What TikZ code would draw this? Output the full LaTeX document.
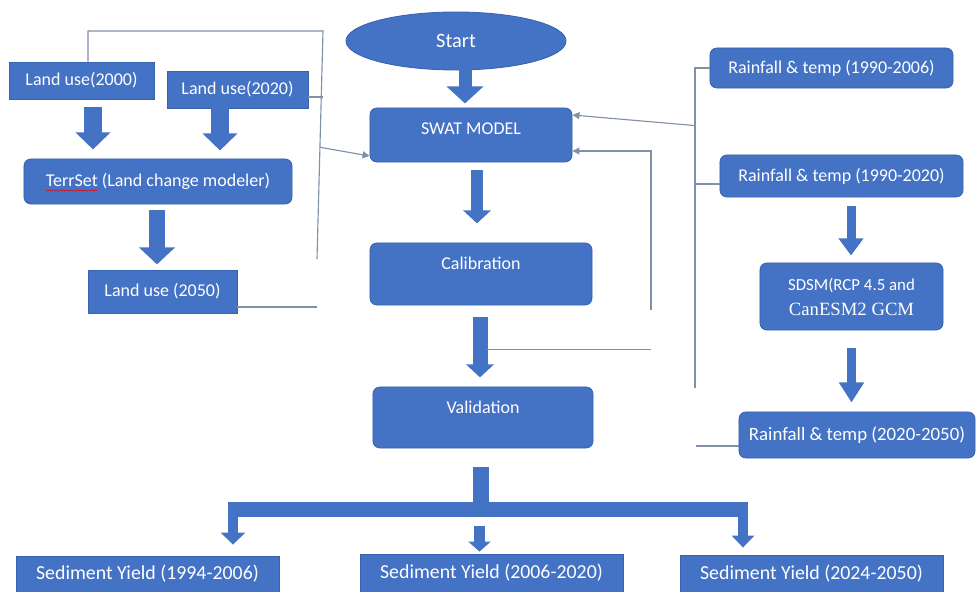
\documentclass[tikz,border=0pt]{standalone}
\usepackage{fontspec}
\setmainfont{Carlito}
\newfontfamily\timesfont{Liberation Serif}
\usetikzlibrary{arrows.meta,calc,shapes.geometric,decorations.pathmorphing}
\definecolor{boxblue}{HTML}{4472C4}
\definecolor{boxedge}{HTML}{3862B0}
\definecolor{linkgray}{HTML}{8190AA}

\begin{document}
\begin{tikzpicture}[x=0.025cm,y=-0.025cm,
  fat/.style n args={3}{draw=boxblue,line width=#1cm,-{Triangle[width=#2cm,length=#3cm]}}]
  \tikzstyle{plain}=[draw=boxedge,fill=boxblue,text=white,inner sep=0pt,line width=0.6pt,font=\fontsize{12.8}{15}\selectfont]
  \tikzstyle{rbox}=[plain,rounded corners=5pt]
  \tikzstyle{link}=[draw=linkgray,line width=0.8pt]
  \tikzstyle{tip}=[-{Triangle[length=5pt,width=5pt]}]
  \useasboundingbox[fill=white] (0,0) rectangle (976,592);

  \node [plain,ellipse,minimum width=5.5cm,minimum height=1.45cm,font=\fontsize{14.5}{16}\selectfont] (start) at (456,41) {Start} ;
  \node [rbox,minimum width=5.05cm,minimum height=1.35cm,text height=0.75em,text depth=8pt] (swat) at (471,135) {SWAT MODEL} ;
  \node [rbox,minimum width=5.55cm,minimum height=1.55cm,text height=0.75em,text depth=14pt] (calib) at (481,274) {Calibration} ;
  \node [rbox,minimum width=5.5cm,minimum height=1.525cm,text height=0.75em,text depth=13pt] (valid) at (483,417.5) {Validation} ;

  \node [plain,minimum width=3.625cm,minimum height=0.925cm] (lu2000) at (81.5,80.5) {Land use(2000)} ;
  \node [plain,minimum width=3.525cm,minimum height=0.925cm] (lu2020) at (237.5,89.5) {Land use(2020)} ;
  \node [rbox,minimum width=6.7cm,minimum height=1.125cm] (terrset) at (158,181.5) {TerrSet (Land change modeler)} ;
  \node [plain,minimum width=3.725cm,minimum height=1.075cm] (lu2050) at (162.5,291.5) {Land use (2050)} ;

  \node [rbox,minimum width=6.075cm,minimum height=1.0cm] (rf1) at (831.5,68) {Rainfall \& temp (1990-2006)} ;
  \node [rbox,minimum width=6.075cm,minimum height=1.05cm] (rf2) at (841.5,176) {Rainfall \& temp (1990-2020)} ;
  \node [rbox,minimum width=4.575cm,minimum height=1.675cm,align=center,font=\fontsize{12}{17.8}\selectfont] (sdsm) at (851.5,296.5) {SDSM(RCP 4.5 and\\{\timesfont\fontsize{13.3}{17.8}\selectfont CanESM2 GCM}} ;
  \node [rbox,minimum width=5.9cm,minimum height=1.15cm,font=\fontsize{13.4}{15}\selectfont] (rf3) at (857,435) {Rainfall \& temp (2020-2050)} ;

  \node [plain,minimum width=6.575cm,minimum height=0.9cm,font=\fontsize{14.1}{16}\selectfont] (sed1) at (147.5,574) {Sediment Yield (1994-2006)} ;
  \node [plain,minimum width=6.575cm,minimum height=0.95cm,font=\fontsize{14.1}{16}\selectfont] (sed2) at (491.5,573) {Sediment Yield (2006-2020)} ;
  \node [plain,minimum width=6.575cm,minimum height=0.925cm,font=\fontsize{14.1}{16}\selectfont] (sed3) at (811.5,573.5) {Sediment Yield (2024-2050)} ;

  \draw [red,decorate,decoration={snake,amplitude=0.5pt,segment length=2.5pt}] ($(terrset.center)+(-113,9)$) -- ++(52,0) ;

  \draw [fat={0.325}{0.9}{0.425}] ($(start.south)+(9,-2)$) -- ++(0,35) ;
  \draw [fat={0.3}{0.675}{0.325}] ($(swat.south)+(6,8)$) -- ++(0,53) ;
  \draw [fat={0.375}{0.675}{0.325}] ($(calib.south)+(-1,12)$) -- ++(0,60) ;
  \draw [fat={0.425}{0.85}{0.425}] ($(lu2000.south)+(11.5,8)$) -- ++(0,42) ;
  \draw [fat={0.425}{0.85}{0.425}] ($(lu2020.south)+(-17.5,0)$) -- ++(0,42) ;
  \draw [fat={0.375}{0.875}{0.425}] ($(terrset.south)+(-1,6)$) -- ++(0,54) ;
  \draw [fat={0.225}{0.6}{0.425}] ($(rf2.south)+(9.5,9)$) -- ++(0,49) ;
  \draw [fat={0.225}{0.6}{0.5}] ($(sdsm.south)+(0,18)$) -- ++(0,54) ;

  \draw [boxblue,line width=0.4cm] ($(valid.south)+(-2,19)$) -- ++(0,36) ;
  \draw [boxblue,line width=0.375cm] ($(valid.south)+(-255,61.5)$) -- ++(520,0) ;
  \draw [fat={0.25}{0.6}{0.3}] ($(sed1.north)+(85.5,-54)$) -- ++(0,43) ;
  \draw [fat={0.275}{0.55}{0.25}] ($(sed2.north)+(-12,-28)$) -- ++(0,26) ;
  \draw [fat={0.25}{0.55}{0.3}] ($(sed3.north)+(-68.5,-53)$) -- ++(0,46) ;

  \coordinate (ltop) at (323,31) ;
  \coordinate (lbot) at (317,259) ;
  \draw [link] ($(lu2000.north)+(6.5,0)$) |- (ltop) -- (lbot) ;
  \draw [link] ($(lu2020.east)+(0,7.5)$) -- ++(15,0) ;
  \draw [link,tip] ($(ltop)!0.51!(lbot)$) -- ($(swat.west)+(0,21)$) ;
  \draw [link] ($(lu2050.east)+(0,15.5)$) -- ++(80,0) ;

  \coordinate (rbot) at (695,388) ;
  \draw [link] (rf1.west) -| (rbot) ;
  \draw [link] ($(rf2.west)+(0,8)$) -- ++(-25,0) ;
  \draw [link,tip] ($(rf1.west -| rbot)!0.18!(rbot)$) -- ($(swat.east)+(0,-20)$) ;
  \draw [link] ($(rf3.west)+(0,11)$) -- ++(-43,0) ;

  \coordinate (fbot) at (651,310) ;
  \draw [link] ($(calib.south)+(6,44)$) -- ++(164,0) ;
  \draw [link,tip] (fbot) |- ($(swat.east)+(0,16)$) ;
\end{tikzpicture}
\end{document}
